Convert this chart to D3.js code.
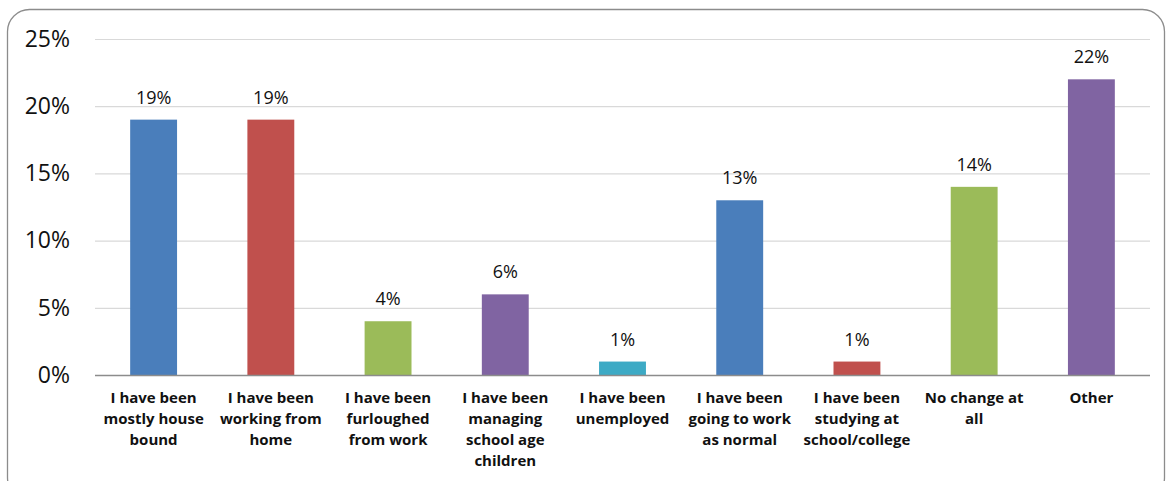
<!DOCTYPE html>
<html>
<head>
<meta charset="utf-8">
<script src="https://cdn.jsdelivr.net/npm/d3@7"></script>
<style>
  html, body { margin: 0; padding: 0; background: #fff; }
  svg { display: block; font-family: "Open Sans", Lato, "Liberation Sans", sans-serif; }
</style>
</head>
<body>
<svg id="chart" width="1170" height="481"></svg>
<script>
// Survey responses: how daily life has changed
const categories = [
  ["I have been", "mostly house", "bound"],
  ["I have been", "working from", "home"],
  ["I have been", "furloughed", "from work"],
  ["I have been", "managing", "school age", "children"],
  ["I have been", "unemployed"],
  ["I have been", "going to work", "as normal"],
  ["I have been", "studying at", "school/college"],
  ["No change at", "all"],
  ["Other"]
];
const values = [19, 19, 4, 6, 1, 13, 1, 14, 22];
const colors = ["#4A7EBB", "#C0504D", "#9BBB59", "#8064A2", "#3DAAC5", "#4A7EBB", "#C0504D", "#9BBB59", "#8064A2"];
const yTicks = [0, 5, 10, 15, 20, 25];

const svg = d3.select("#chart");
const W = 1170, H = 481;
const margin = { left: 95, right: 20, top: 39, bottom: 106 };

// Rounded outer frame
svg.append("rect")
  .attr("x", 7.5).attr("y", 9.5)
  .attr("width", 1157).attr("height", 490)
  .attr("rx", 22).attr("ry", 22)
  .attr("fill", "none").attr("stroke", "#8c8c8c").attr("stroke-width", 1.3);

const x = d3.scaleBand()
  .domain(d3.range(categories.length))
  .range([margin.left, W - margin.right])
  .paddingInner(0.6).paddingOuter(0.3);

const y = d3.scaleLinear().domain([0, 25]).range([H - margin.bottom, margin.top]);

// Gridlines
svg.append("g")
  .selectAll("line").data(yTicks.filter(d => d > 0)).join("line")
  .attr("x1", margin.left).attr("x2", W - margin.right)
  .attr("y1", d => y(d) + 0.5).attr("y2", d => y(d) + 0.5)
  .attr("stroke", "#d9d9d9").attr("stroke-width", 1.2);

// Y axis labels
const yAxis = d3.axisLeft(y).tickValues(yTicks).tickFormat(d => d + "%").tickSize(0).tickPadding(25);
const gy = svg.append("g").attr("transform", `translate(${margin.left},0)`).call(yAxis);
gy.select(".domain").remove();
gy.selectAll("text").attr("font-size", 23).attr("fill", "#111")
  .attr("font-family", "'Open Sans', Lato, sans-serif");

// Bars
svg.append("g").selectAll("rect").data(values).join("rect")
  .attr("x", (d, i) => x(i))
  .attr("y", d => y(d))
  .attr("width", x.bandwidth())
  .attr("height", d => y(0) - y(d))
  .attr("fill", (d, i) => colors[i]);

// Value labels
svg.append("g").selectAll("text").data(values).join("text")
  .attr("x", (d, i) => x(i) + x.bandwidth() / 2)
  .attr("y", d => y(d) - 16)
  .attr("text-anchor", "middle")
  .attr("font-size", 18).attr("fill", "#111")
  .text(d => d + "%");

// Baseline
svg.append("line")
  .attr("x1", margin.left).attr("x2", W - margin.right)
  .attr("y1", y(0) + 0.5).attr("y2", y(0) + 0.5)
  .attr("stroke", "#8c8c8c").attr("stroke-width", 1.5);

// Category labels
const cat = svg.append("g").selectAll("text").data(categories).join("text")
  .attr("x", (d, i) => x(i) + x.bandwidth() / 2)
  .attr("y", y(0) + 28)
  .attr("text-anchor", "middle")
  .attr("font-size", 15).attr("font-weight", "bold").attr("fill", "#111");
cat.selectAll("tspan").data(d => d).join("tspan")
  .attr("x", function () { return this.parentNode.getAttribute("x"); })
  .attr("dy", (d, i) => i === 0 ? 0 : 21)
  .text(d => d);
</script>
</body>
</html>
